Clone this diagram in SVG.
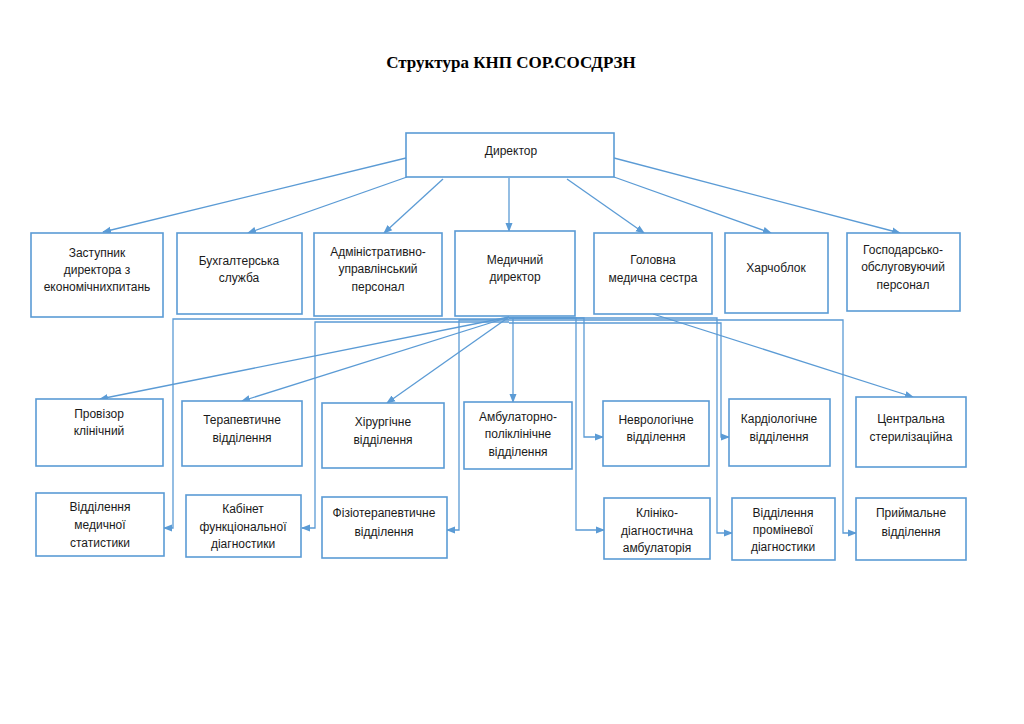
<svg xmlns="http://www.w3.org/2000/svg" width="1024" height="724" viewBox="0 0 1024 724">
<style>
.box{fill:#fff;stroke:#5B9BD5;stroke-width:1.6}
.t{font-family:"Liberation Sans",Arial,sans-serif;font-size:12px;fill:#1a1a1a;text-anchor:middle}
.title{font-family:"Liberation Serif","Times New Roman",serif;font-size:17px;font-weight:bold;fill:#000;text-anchor:middle}
.c{fill:none;stroke:#5B9BD5;stroke-width:1.3;marker-end:url(#a)}
</style>
<defs>
<marker id="a" markerWidth="9" markerHeight="8" refX="8" refY="4" orient="auto" markerUnits="userSpaceOnUse">
<path d="M0,0.5 L9,4 L0,7.5 z" fill="#5B9BD5"/>
</marker>
</defs>
<rect width="1024" height="724" fill="#fff"/>
<text class="title" x="511" y="68">Структура КНП СОР.СОСДРЗН</text>

<g id="connectors">
<path class="c" d="M406,158 L103,232"/>
<path class="c" d="M407,177 L248,233"/>
<path class="c" d="M443,179 L384,233"/>
<path class="c" d="M509,178 L509,231"/>
<path class="c" d="M567,179 L644,233"/>
<path class="c" d="M614,177 L771,233"/>
<path class="c" d="M614,158 L900,233"/>
<path class="c" d="M509,317 L100,399"/>
<path class="c" d="M509,317 L242,401"/>
<path class="c" d="M509,317 L387,403"/>
<path class="c" d="M513,317 L513,402"/>
<path class="c" d="M509,319 H173 V528 H164"/>
<path class="c" d="M509,322 H315 V528 H302"/>
<path class="c" d="M509,320 H459 V530 H447"/>
<path class="c" d="M509,318 H576 V530 H604"/>
<path class="c" d="M509,318 H584 V437 H603"/>
<path class="c" d="M509,318 H717 V533 H732"/>
<path class="c" d="M509,323 H721 V437 H729"/>
<path class="c" d="M509,320 H843 V533 H856"/>
<path class="c" d="M653,314 L913,397"/>
</g>

<g id="director"><rect class="box" x="406" y="133" width="208" height="44"/><text class="t" x="511" y="155">Директор</text></g>

<g id="zastupnyk"><rect class="box" x="31" y="233" width="132" height="84"/>
<text class="t" x="97" y="257">Заступник</text><text class="t" x="97" y="274">директора з</text><text class="t" x="97" y="291">економічнихпитань</text></g>
<g id="bukh"><rect class="box" x="177" y="233" width="125" height="81"/>
<text class="t" x="239" y="265">Бухгалтерська</text><text class="t" x="239" y="282">служба</text></g>
<g id="admin"><rect class="box" x="314" y="233" width="128" height="83"/>
<text class="t" x="378" y="256">Адміністративно-</text><text class="t" x="378" y="273">управлінський</text><text class="t" x="378" y="291">персонал</text></g>
<g id="meddir"><rect class="box" x="455" y="231" width="120" height="85"/>
<text class="t" x="515" y="264">Медичний</text><text class="t" x="515" y="281">директор</text></g>
<g id="golovna"><rect class="box" x="594" y="233" width="118" height="81"/>
<text class="t" x="653" y="264">Головна</text><text class="t" x="653" y="282">медична сестра</text></g>
<g id="kharch"><rect class="box" x="725" y="233" width="103" height="80"/>
<text class="t" x="776" y="272">Харчоблок</text></g>
<g id="gosp"><rect class="box" x="847" y="233" width="113" height="78"/>
<text class="t" x="903" y="254">Господарсько-</text><text class="t" x="903" y="271">обслуговуючий</text><text class="t" x="903" y="289">персонал</text></g>

<g id="provizor"><rect class="box" x="36" y="399" width="127" height="67"/>
<text class="t" x="99" y="418">Провізор</text><text class="t" x="99" y="435">клінічний</text></g>
<g id="terap"><rect class="box" x="182" y="401" width="120" height="65"/>
<text class="t" x="242" y="424">Терапевтичне</text><text class="t" x="242" y="442">відділення</text></g>
<g id="khirurg"><rect class="box" x="322" y="403" width="122" height="65"/>
<text class="t" x="383" y="426">Хірургічне</text><text class="t" x="383" y="444">відділення</text></g>
<g id="ambul"><rect class="box" x="464" y="402" width="108" height="67"/>
<text class="t" x="518" y="421">Амбулаторно-</text><text class="t" x="518" y="438">поліклінічне</text><text class="t" x="518" y="456">відділення</text></g>
<g id="nevro"><rect class="box" x="603" y="401" width="106" height="65"/>
<text class="t" x="656" y="424">Неврологічне</text><text class="t" x="656" y="441">відділення</text></g>
<g id="kardio"><rect class="box" x="729" y="399" width="101" height="67"/>
<text class="t" x="779" y="423">Кардіологічне</text><text class="t" x="779" y="441">відділення</text></g>
<g id="steril"><rect class="box" x="856" y="397" width="110" height="70"/>
<text class="t" x="911" y="423">Центральна</text><text class="t" x="911" y="441">стерилізаційна</text></g>

<g id="statyst"><rect class="box" x="36" y="493" width="128" height="63"/>
<text class="t" x="100" y="511">Відділення</text><text class="t" x="100" y="529">медичної</text><text class="t" x="100" y="547">статистики</text></g>
<g id="kabinet"><rect class="box" x="186" y="495" width="115" height="62"/>
<text class="t" x="243" y="513">Кабінет</text><text class="t" x="243" y="531">функціональної</text><text class="t" x="243" y="548">діагностики</text></g>
<g id="fizio"><rect class="box" x="322" y="497" width="125" height="61"/>
<text class="t" x="384" y="517">Фізіотерапевтичне</text><text class="t" x="384" y="536">відділення</text></g>
<g id="kliniko"><rect class="box" x="604" y="498" width="106" height="61"/>
<text class="t" x="657" y="517">Клініко-</text><text class="t" x="657" y="535">діагностична</text><text class="t" x="657" y="552">амбулаторія</text></g>
<g id="promin"><rect class="box" x="732" y="498" width="103" height="62"/>
<text class="t" x="783" y="517">Відділення</text><text class="t" x="783" y="534">проміневої</text><text class="t" x="783" y="551">діагностики</text></g>
<g id="pryim"><rect class="box" x="856" y="498" width="110" height="62"/>
<text class="t" x="911" y="517">Приймальне</text><text class="t" x="911" y="536">відділення</text></g>
</svg>
